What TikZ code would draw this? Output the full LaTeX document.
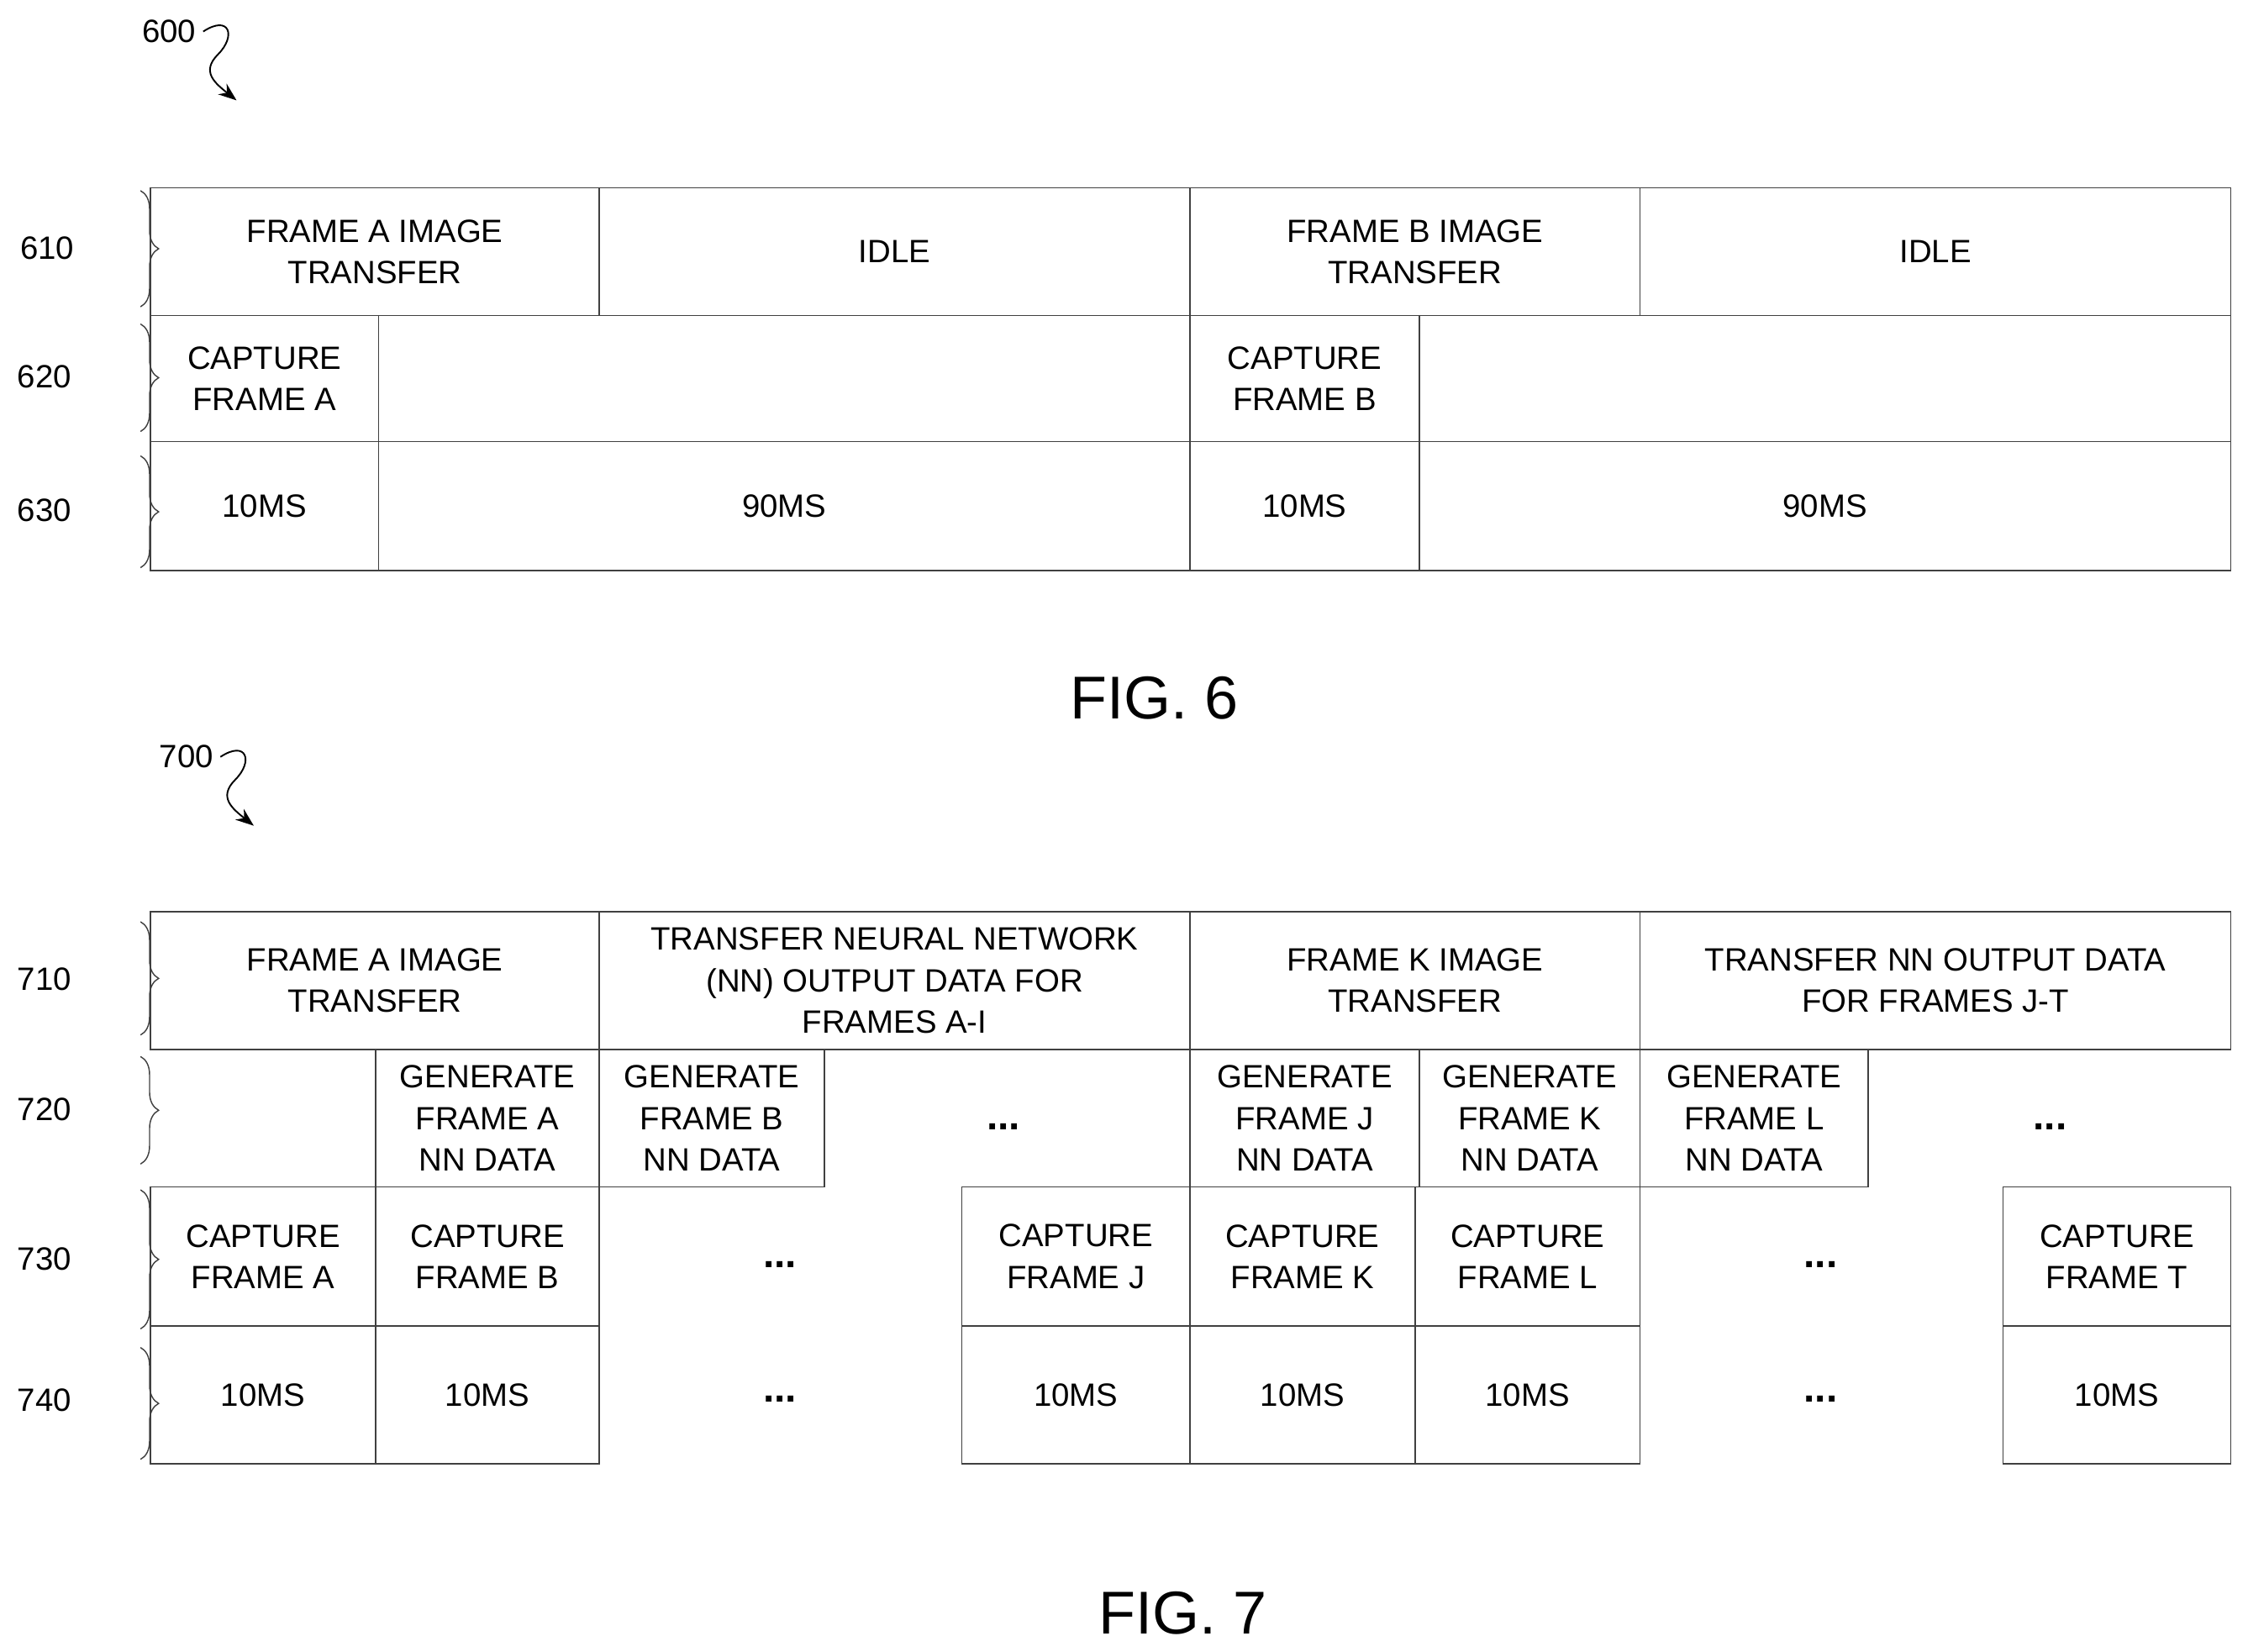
\documentclass[tikz,border=0pt]{standalone}
\usepackage{fontspec}
\setmainfont{Liberation Sans}
\usetikzlibrary{positioning}
\usetikzlibrary{arrows.meta,decorations.pathreplacing}
\tikzset{
 cell/.style 2 args={draw=black!75, line width=0.6pt, minimum width=#1*0.025cm, minimum height=#2*0.025cm,
   inner sep=0pt, align=center, font=\fontsize{16}{20.5}\selectfont},
 ref/.style={font=\fontsize{16}{20}\selectfont},
 dots/.style={font=\fontsize{20}{20}\selectfont\bfseries},
 figlabel/.style={font=\fontsize{30}{30}\selectfont},
 brc/.style={draw=black!75, line width=0.6pt, decorate, decoration={brace, amplitude=9pt, mirror}},
 squig/.style={draw, line width=0.8pt, -{Stealth[length=9pt]}}
}
\begin{document}
\begin{tikzpicture}[x=0.025cm, y=-0.025cm]
 \useasboundingbox (0,0) rectangle (1568,1152);

 %fig 6
 \node[ref] (n600) at (118,22) {600};
 \coordinate (e600) at (165,70);
 \path[squig] (n600.east) .. controls (160,10) and (165,25) .. (152,38) .. controls (140,50) and (150,58) .. (e600);

 %610
 \node[cell={313}{89}] (a1) at (261.5,175.5) {FRAME A IMAGE\\TRANSFER};
 \node[cell={412}{89}] (a2) at (624,175.5) {IDLE};
 \node[cell={314}{89}] (a3) at (987,175.5) {FRAME B IMAGE\\TRANSFER};
 \node[cell={412}{89}] (a4) at (1350,175.5) {IDLE};
 %620
 \node[cell={159}{88}] (b1) at (184.5,264) {CAPTURE\\FRAME A};
 \node[cell={566}{88}] (b2) at (547,264) {};
 \node[cell={160}{88}] (b3) at (910,264) {CAPTURE\\FRAME B};
 \node[cell={566}{88}] (b4) at (1273,264) {};
 %630
 \node[cell={159}{90}] (c1) at (184.5,353) {10MS};
 \node[cell={566}{90}] (c2) at (547,353) {90MS};
 \node[cell={160}{90}] (c3) at (910,353) {10MS};
 \node[cell={566}{90}] (c4) at (1273,353) {90MS};

 %braces 6
 \path[brc] (98,214) -- (98,133);
 \path[brc] (98,301) -- (98,226);
 \path[brc] (98,396) -- (98,318);
 \node[ref] (r610) at (33,173) {610};
 \node[ref] (r620) at (31,263) {620};
 \node[ref] (r630) at (31,356) {630};

 \node[figlabel] (fig6) at (805,487) {FIG. 6};

 %fig 7
 \node[ref] (n700) at (130,528) {700};
 \coordinate (e700) at (177,576);
 \path[squig] (n700.east) .. controls (172,516) and (177,531) .. (164,544) .. controls (152,556) and (162,564) .. (e700);

 %710
 \node[cell={313}{96}] (d1) at (261.5,684) {FRAME A IMAGE\\TRANSFER};
 \node[cell={412}{96}] (d2) at (624,684) {TRANSFER NEURAL NETWORK\\(NN) OUTPUT DATA FOR\\FRAMES A-I};
 \node[cell={314}{96}] (d3) at (987,684) {FRAME K IMAGE\\TRANSFER};
 \node[cell={412}{96}] (d4) at (1350,684) {TRANSFER NN OUTPUT DATA\\FOR FRAMES J-T};
 %720
 \node[cell={156}{96}] (g1) at (340,780) {GENERATE\\FRAME A\\NN DATA};
 \node[cell={157}{96}] (g2) at (496.5,780) {GENERATE\\FRAME B\\NN DATA};
 \node[dots] (g3) at (700,786) {...};
 \node[cell={160}{96}] (g4) at (910,780) {GENERATE\\FRAME J\\NN DATA};
 \node[cell={154}{96}] (g5) at (1067,780) {GENERATE\\FRAME K\\NN DATA};
 \node[cell={159}{96}] (g6) at (1223.5,780) {GENERATE\\FRAME L\\NN DATA};
 \node[dots] (g7) at (1430,786) {...};
 %730
 \node[cell={157}{97}] (h1) at (183.5,876.5) {CAPTURE\\FRAME A};
 \node[cell={156}{97}] (h2) at (340,876.5) {CAPTURE\\FRAME B};
 \node[dots] (h3) at (544,882) {...};
 \node[cell={159}{97}] (h4) at (750.5,876.5) {CAPTURE\\FRAME J};
 \node[cell={157}{97}] (h5) at (908.5,876.5) {CAPTURE\\FRAME K};
 \node[cell={157}{97}] (h6) at (1065.5,876.5) {CAPTURE\\FRAME L};
 \node[dots] (h7) at (1270,882) {...};
 \node[cell={159}{97}] (h8) at (1476.5,876.5) {CAPTURE\\FRAME T};
 %740
 \node[cell={157}{96}] (k1) at (183.5,973) {10MS};
 \node[cell={156}{96}] (k2) at (340,973) {10MS};
 \node[dots] (k3) at (544,976) {...};
 \node[cell={159}{96}] (k4) at (750.5,973) {10MS};
 \node[cell={157}{96}] (k5) at (908.5,973) {10MS};
 \node[cell={157}{96}] (k6) at (1065.5,973) {10MS};
 \node[dots] (k7) at (1270,976) {...};
 \node[cell={159}{96}] (k8) at (1476.5,973) {10MS};

 %braces 7
 \path[brc] (98,722) -- (98,643);
 \path[brc] (98,812) -- (98,737);
 \path[brc] (98,927) -- (98,830);
 \path[brc] (98,1018) -- (98,940);
 \node[ref] (r710) at (31,683) {710};
 \node[ref] (r720) at (31,774) {720};
 \node[ref] (r730) at (31,878) {730};
 \node[ref] (r740) at (31,977) {740};

 \node[figlabel] (fig7) at (825,1125) {FIG. 7};
\end{tikzpicture}
\end{document}
